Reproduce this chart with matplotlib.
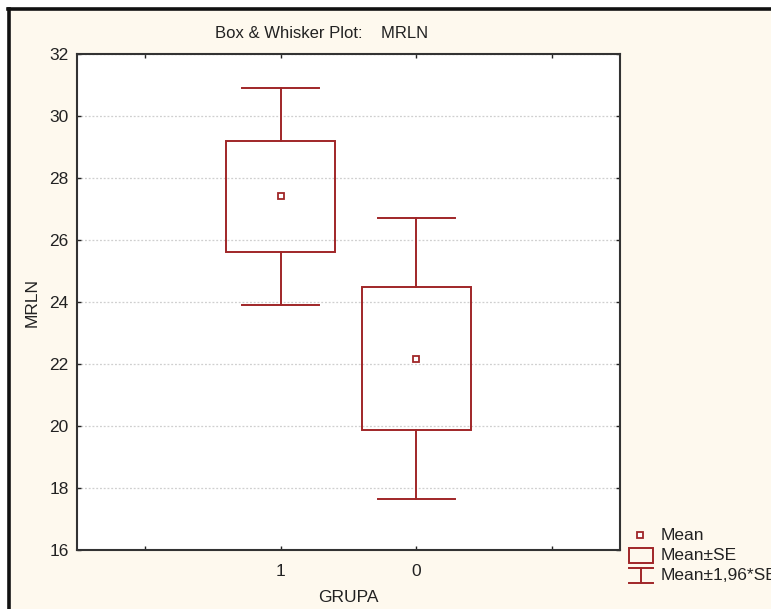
import matplotlib
matplotlib.use("Agg")
import matplotlib.pyplot as plt
from matplotlib.patches import Rectangle
from matplotlib.lines import Line2D

plt.rcParams['font.family'] = ['Liberation Sans', 'DejaVu Sans']

# Data
groups = ['1', '0']
means = [27.41, 22.17]
se = [1.79, 2.31]
y_ticks = [16, 18, 20, 22, 24, 26, 28, 30, 32]
title = "Box & Whisker Plot:    MRLN"
xlabel = "GRUPA"
ylabel = "MRLN"
legend_labels = ["Mean", "Mean\u00b1SE", "Mean\u00b11,96*SE"]

RED = '#a02628'
BG = '#fef9ee'

W, H = 771, 609
fig = plt.figure(figsize=(W / 100, H / 100), dpi=100)
fig.patch.set_facecolor('white')

# cream panel with black frame (top and left)
fig.patches.append(Rectangle((9 / W, 0), 1, 1 - 9 / H, transform=fig.transFigure,
                             facecolor=BG, edgecolor='none', zorder=-2))
fig.lines.append(Line2D([9 / W, 9 / W], [0, 1 - 9 / H], transform=fig.transFigure,
                        color='#111111', lw=2.6))
fig.lines.append(Line2D([7.7 / W, 1], [1 - 9 / H, 1 - 9 / H], transform=fig.transFigure,
                        color='#111111', lw=2.6))

ax = fig.add_axes([77 / W, 1 - 550 / H, (620 - 77) / W, (550 - 54) / H])
ax.set_facecolor('white')
ax.set_xlim(-0.5, 3.5)
ax.set_ylim(16, 32)

positions = [1, 2]
box_w = 0.8
cap_w = 0.57
for x, m, s in zip(positions, means, se):
    lo, hi = m - s, m + s
    wlo, whi = m - 1.96 * s, m + 1.96 * s
    ax.add_patch(Rectangle((x - box_w / 2, lo), box_w, hi - lo, facecolor='none',
                           edgecolor=RED, lw=1.4, zorder=3))
    ax.plot([x, x], [hi, whi], color=RED, lw=1.4, zorder=3)
    ax.plot([x, x], [wlo, lo], color=RED, lw=1.4, zorder=3)
    ax.plot([x - cap_w / 2, x + cap_w / 2], [whi, whi], color=RED, lw=1.4, zorder=3)
    ax.plot([x - cap_w / 2, x + cap_w / 2], [wlo, wlo], color=RED, lw=1.4, zorder=3)
    ax.plot([x], [m], marker='s', ms=5, mfc='white', mec=RED, mew=1.3, zorder=4)

ax.set_xticks([0, 1, 2, 3])
ax.set_xticklabels(['', groups[0], groups[1], ''])
ax.set_yticks(y_ticks)
ax.set_yticklabels([str(v) for v in y_ticks])
ax.tick_params(direction='in', length=3, width=1, top=True, right=True,
               labelsize=12.5, colors='#222222', pad=6)
ax.tick_params(axis='x', pad=10)
for sp in ax.spines.values():
    sp.set_color('#333333')
    sp.set_linewidth(1.5)
ax.yaxis.grid(True, linestyle=(0, (1.5, 1.5)), color='#cfcfcf', lw=0.9)
ax.set_axisbelow(True)

fig.text(215 / W, 1 - 33 / H, title, ha='left', va='center', fontsize=12, color='#222222')
fig.text(348 / W, 1 - 598 / H, xlabel, ha='center', va='center', fontsize=12.5, color='#222222')
fig.text(32 / W, 1 - 302 / H, ylabel, ha='center', va='center', rotation=90,
         fontsize=12.5, color='#222222')

# legend (manual)
tf = fig.transFigure
def fx(px):
    return px / W
def fy(py):
    return 1 - py / H

fig.lines.append(Line2D([fx(640)], [fy(535)], transform=tf, marker='s', ms=5,
                        mfc='white', mec=RED, mew=1.3, ls='none'))
fig.patches.append(Rectangle((fx(629), fy(563)), 24 / W, 15 / H, transform=tf,
                             facecolor='none', edgecolor=RED, lw=1.4))
fig.lines.append(Line2D([fx(629), fx(653)], [fy(568), fy(568)], transform=tf, color=RED, lw=1.4))
fig.lines.append(Line2D([fx(629), fx(653)], [fy(583), fy(583)], transform=tf, color=RED, lw=1.4))
fig.lines.append(Line2D([fx(641), fx(641)], [fy(568), fy(583)], transform=tf, color=RED, lw=1.4))
for ypx, lab in zip([535, 556, 576], legend_labels):
    fig.text(fx(661), fy(ypx), lab, ha='left', va='center', fontsize=12.5, color='#222222')

fig.savefig('out.png', dpi=100, facecolor=fig.get_facecolor())
